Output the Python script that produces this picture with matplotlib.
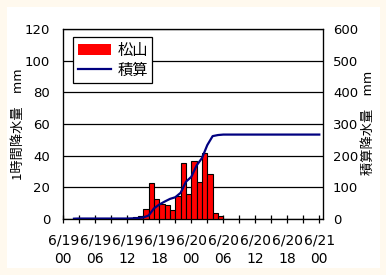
import numpy as np
import matplotlib
matplotlib.use("Agg")
import matplotlib.pyplot as plt
from matplotlib.patches import Rectangle

# hourly rainfall (mm) at 松山, index = hours since 6/19 00:00
rain = [0, 0, 0.5, 0, 0, 0, 0, 0, 0, 0, 0, 0,
        0.5, 1, 2, 6, 22.6, 12.3, 9.3, 8.5, 5.3, 14.1, 35.1, 15.4,
        36.3, 23, 41.4, 28.3, 3.4, 1.5, 0, 0, 0, 0, 0, 0,
        0, 0, 0, 0, 0, 0, 0, 0, 0, 0, 0, 0]
hours = np.arange(len(rain))
tick_hours = np.arange(0, 49, 3)
label_hours = np.arange(0, 49, 6)
xlabels = ["6/19\n00", "6/19\n06", "6/19\n12", "6/19\n18", "6/20\n00",
           "6/20\n06", "6/20\n12", "6/20\n18", "6/21\n00"]

cum = np.concatenate([[0], np.cumsum(rain)])
cum_x = np.arange(len(cum))

jp = ['Noto Sans CJK JP', 'DejaVu Sans']
num = ['DejaVu Sans']

fig = plt.figure(figsize=(3.86, 2.75), dpi=100)
fig.patch.set_facecolor('#FFF9EE')
fig.add_artist(Rectangle((7/386, 1-268/275), 373/386, 261/275,
                         transform=fig.transFigure, facecolor='white', edgecolor='none', zorder=-10))

ax = fig.add_axes([63.3/386, 1-218.7/275, 260/386, 189.4/275])
ax.set_facecolor('white')
rain_arr = np.array(rain)
edge_w = np.where(rain_arr > 0, 0.8, 0)
bars = ax.bar(hours, rain_arr, width=1, align='edge', color='#FF0000', edgecolor='black', linewidth=edge_w, zorder=3)
ax.set_xlim(0, 48.75)
ax.set_ylim(0, 120)
ax.set_yticks(np.arange(0, 121, 20))
ax.yaxis.grid(True, color='black', linewidth=0.9)
ax.set_axisbelow(True)
ax.set_xticks(label_hours)
ax.set_xticks(tick_hours, minor=True)
ax.set_xticklabels(xlabels, family=num, fontsize=10, linespacing=1.35)
ax.tick_params(axis='x', which='both', direction='inout', length=6, width=0.9, pad=8)
ax.tick_params(axis='y', length=0, pad=9.5, labelsize=9.5)
for t in ax.get_yticklabels():
    t.set_family(num)
for s in ax.spines.values():
    s.set_color('black')
    s.set_linewidth(0.9)

ax2 = ax.twinx()
line, = ax2.plot(cum_x[2:], cum[2:], color='#000080', linewidth=1.6, zorder=4)
ax2.set_ylim(0, 600)
ax2.set_yticks(np.arange(0, 601, 100))
ax2.tick_params(axis='y', length=0, pad=7, labelsize=9.5)
for t in ax2.get_yticklabels():
    t.set_family(num)
ax2.set_xlim(0, 48.75)

leg = ax2.legend([bars, line], ['松山', '積算'], loc='upper left', bbox_to_anchor=(0.037, 0.959),
                 borderaxespad=0, frameon=True, fancybox=False, framealpha=1, edgecolor='black',
                 prop={'family': jp, 'size': 11}, handlelength=2.2, handleheight=0.7,
                 borderpad=0.3, labelspacing=0.2, handletextpad=0.4)
leg.get_frame().set_linewidth(0.9)

fig.text(19/386, 1-124/275, '1時間降水量\u3000mm', rotation=90, ha='center', va='center', family=jp, fontsize=9.5)
fig.text(368.5/386, 1-123/275, '積算降水量\u3000mm', rotation=90, ha='center', va='center', family=jp, fontsize=9.5)

fig.savefig('out.png', dpi=100, facecolor=fig.get_facecolor())
